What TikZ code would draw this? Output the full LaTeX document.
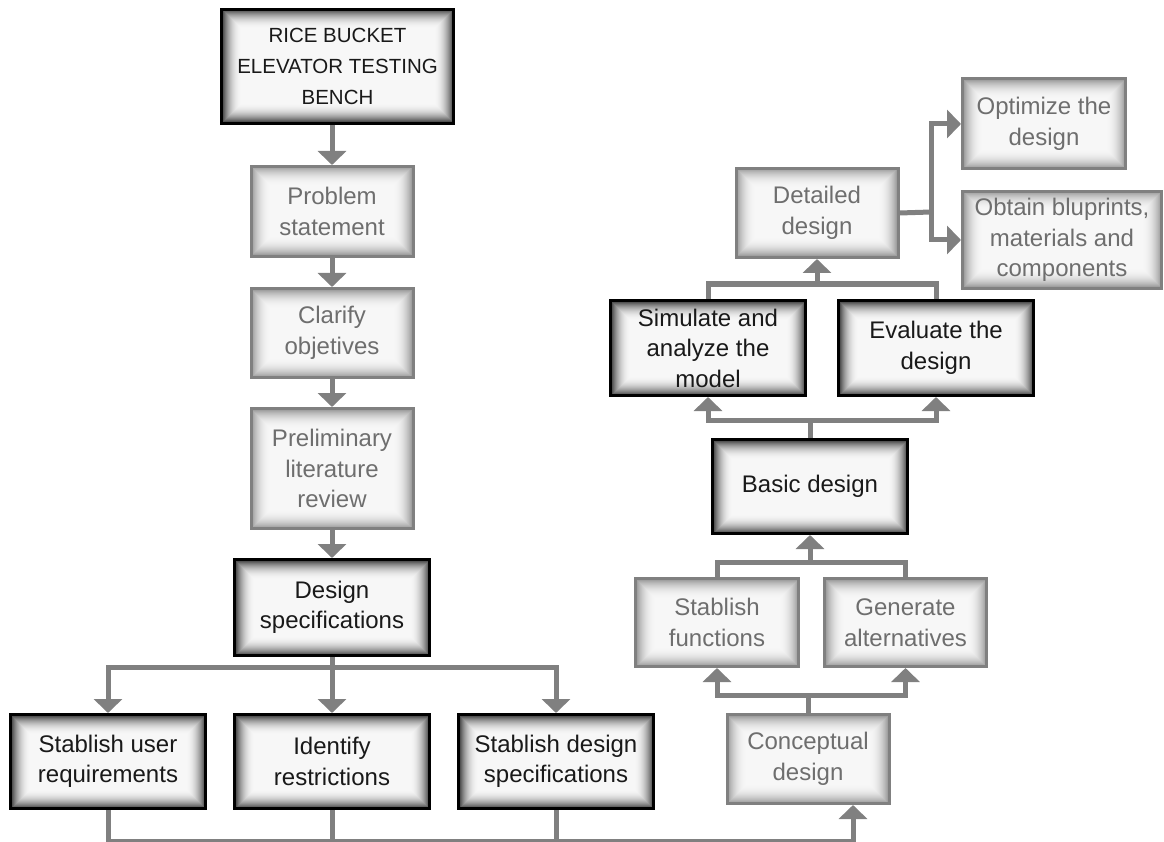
\documentclass[tikz,border=0pt]{standalone}
\usepackage{fontspec}
\setmainfont{Liberation Sans}
\usetikzlibrary{arrows.meta}

\definecolor{linegray}{RGB}{128,128,128}
\definecolor{lighttext}{RGB}{110,110,110}
\definecolor{darkglow}{RGB}{62,62,62}
\definecolor{lightglow}{RGB}{150,150,150}
\definecolor{boxcore}{RGB}{247,247,247}

\tikzset{
  % inner glow: nested outlines fading from the edge colour to the core
  glow/.style={path picture={
    \foreach \i in {0,...,19}{
      \pgfmathsetmacro{\pc}{100*(1-\i/20)^2.2}
      \draw[line width=1.2pt, draw=#1!\pc!boxcore]
        ([shift={({\i*1pt+0.6pt},{-\i*1pt-0.6pt})}]path picture bounding box.north west) rectangle
        ([shift={({-\i*1pt-0.6pt},{\i*1pt+0.6pt})}]path picture bounding box.south east);
    }}},
  box/.style={rectangle, line width=3pt, inner sep=0pt, align=center,
    fill=boxcore, font=\fontsize{24}{30.5}\selectfont},
  darkbox/.style={box, draw=black, text=black!90, glow=darkglow},
  lightbox/.style={box, draw=linegray, text=lighttext, glow=lightglow},
  link/.style={draw=linegray, line width=5pt},
  arr/.style={link, -{Triangle[width=28pt,length=14pt]}},
}

\begin{document}
\begin{tikzpicture}[x=1pt,y=-1pt]
\fill[white] (0,0) rectangle (1164,842);
\useasboundingbox (0,0) rectangle (1164,842);

% left column
\node[darkbox, minimum width=232, minimum height=114, font=\fontsize{20.5}{31}\selectfont]
  (rice) at (337.5,66.5) {RICE BUCKET\\ELEVATOR TESTING\\BENCH};
\node[lightbox, minimum width=162, minimum height=90] (prob) at (332,211.5) {Problem\\statement};
\node[lightbox, minimum width=162, minimum height=89] (clar) at (332,333) {Clarify\\objetives};
\node[lightbox, minimum width=162, minimum height=120] (prel) at (332,468.5) {Preliminary\\literature\\review};
\node[darkbox, minimum width=195, minimum height=96] (dspec) at (332,607.5) {Design\\specifications};

% requirement row
\node[darkbox, minimum width=195, minimum height=94] (user) at (108,761.5) {Stablish user\\requirements};
\node[darkbox, minimum width=195, minimum height=94] (ident) at (332,761.5) {Identify\\restrictions};
\node[darkbox, minimum width=195, minimum height=94] (sdes) at (556,761.5) {Stablish design\\specifications};

% right column
\node[lightbox, minimum width=162, minimum height=89] (concept) at (808,759) {Conceptual\\design};
\node[lightbox, minimum width=163, minimum height=88] (sfun) at (717,622.5) {Stablish\\functions};
\node[lightbox, minimum width=162, minimum height=88] (gen) at (905.5,622.5) {Generate\\alternatives};
\node[darkbox, minimum width=195, minimum height=94] (basic) at (810,486.5) {Basic design};
\node[darkbox, minimum width=195, minimum height=95] (sim) at (708,348) {Simulate and\\analyze the\\model};
\node[darkbox, minimum width=195, minimum height=95] (eval) at (936,348) {Evaluate the\\design};
\node[lightbox, minimum width=162, minimum height=89] (det) at (817,213) {Detailed\\design};
\node[lightbox, minimum width=163, minimum height=90] (opt) at (1044,124) {Optimize the\\design};
\node[lightbox, minimum width=199, minimum height=97] (obt) at (1062,240) {Obtain bluprints,\\materials and\\components};

% junction points
\coordinate (jspec) at (332,667);
\coordinate (jbot) at (853,841);
\coordinate (jcon) at (808,695);
\coordinate (jfun) at (810,562);
\coordinate (jbas) at (810,420);
\coordinate (jsim) at (817,284);
\coordinate (jdet) at (931,212);

% left column flow
\draw[arr] (rice.south -| prob.north) -- (prob.north);
\draw[arr] (prob.south) -- (clar.north);
\draw[arr] (clar.south) -- (prel.north);
\draw[arr] (prel.south) -- (dspec.north);
\draw[arr] (dspec.south) -- (jspec) -| (user.north);
\draw[arr] (jspec) -| (sdes.north);
\draw[arr] (dspec.south) -- (ident.north);

% bottom return line
\draw[arr] (user.south) |- (jbot) -- (jbot |- concept.south);
\draw[link] (ident.south) -- (ident.south |- jbot);
\draw[link] (sdes.south) -- (sdes.south |- jbot);

% conceptual to basic design
\draw[arr] (concept.north) -- (concept.north |- jcon) -| (sfun.south);
\draw[arr] (concept.north |- jcon) -| (gen.south);
\draw[arr] (sfun.north) |- (jfun) -- (basic.south);
\draw[link] (gen.north) |- (jfun);

% basic design to detailed design
\draw[arr] (basic.north) |- (sim.south |- jbas) -- (sim.south);
\draw[arr] (basic.north) |- (eval.south |- jbas) -- (eval.south);
\draw[arr] (sim.north) |- (jsim) -- (det.south);
\draw[link] (eval.north) |- (jsim);

% detailed design outputs
\draw[link] (det.east) -- (jdet);
\draw[arr] (jdet) |- (opt.west);
\draw[arr] (jdet) |- (obt.west);
\end{tikzpicture}
\end{document}
